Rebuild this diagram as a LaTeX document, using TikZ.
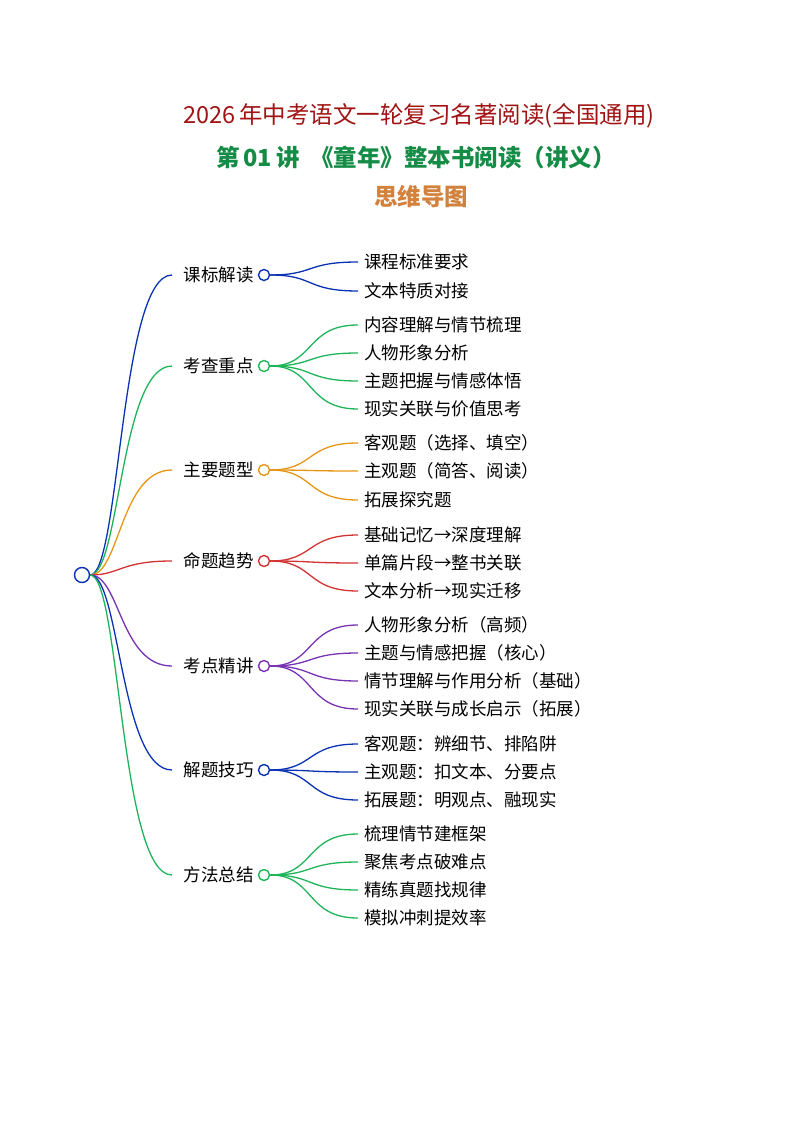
\documentclass[tikz,border=0pt]{standalone}
\usepackage{fontspec}
\setmainfont{Noto Sans CJK SC}
\usepackage{xcolor}
\definecolor{titlered}{RGB}{160,20,20}
\definecolor{titlegreen}{RGB}{20,140,70}
\definecolor{titleorange}{RGB}{210,130,60}
\definecolor{cblue}{RGB}{10,50,180}
\definecolor{cgreen}{RGB}{30,180,90}
\definecolor{corange}{RGB}{230,150,20}
\definecolor{cred}{RGB}{210,50,50}
\definecolor{cpurple}{RGB}{120,50,180}
\begin{document}
\begin{tikzpicture}[x=1pt, y=-1pt,
  topic/.style={font=\fontsize{17.5}{20}\selectfont, anchor=east, inner sep=0pt},
  leaf/.style={font=\fontsize{17.5}{20}\selectfont, anchor=west, inner sep=0pt},
  knot/.style={circle, line width=1.4pt, fill=white, minimum size=11pt, inner sep=0pt},
  link/.style={line width=1.3pt}]
\useasboundingbox (0,0) rectangle (794,1123);

% Titles
\node[font=\fontsize{23.5}{27}\selectfont, titlered] (t1) at (419,116) {2026\,年中考语文一轮复习名著阅读(全国通用)};
\node[font=\fontsize{23.5}{27}\selectfont\bfseries, titlegreen] (t2) at (416,158) {第\,01\,讲\ \ 《童年》整本书阅读（讲义）};
\node[font=\fontsize{23.5}{27}\selectfont\bfseries, titleorange] (t3) at (421,197) {思维导图};

% Root
\node[knot, draw=cblue, minimum size=15pt] (root) at (82,575) {};

% Branches: y / colour / label / leaves
\foreach \n/\y/\c/\lab/\leaves in {
  1/275/cblue/课标解读/{262/课程标准要求,291/文本特质对接},
  2/366/cgreen/考查重点/{325/内容理解与情节梳理,353/人物形象分析,381/主题把握与情感体悟,409/现实关联与价值思考},
  3/470/corange/主要题型/{443/客观题（选择、填空）,471/主观题（简答、阅读）,500/拓展探究题},
  4/561/cred/命题趋势/{535/基础记忆→深度理解,563/单篇片段→整书关联,591/文本分析→现实迁移},
  5/666/cpurple/考点精讲/{625/人物形象分析（高频）,653/主题与情感把握（核心）,681/情节理解与作用分析（基础）,709/现实关联与成长启示（拓展）},
  6/770/cblue/解题技巧/{744/客观题：辨细节、排陷阱,772/主观题：扣文本、分要点,800/拓展题：明观点、融现实},
  7/875/cgreen/方法总结/{834/梳理情节建框架,862/聚焦考点破难点,890/精练真题找规律,918/模拟冲刺提效率}} {
  \node[knot, draw=\c] (k\n) at (264,\y) {};
  \node[topic] (b\n) at (254,\y) {\lab};
  \coordinate (e\n) at (172,\y);
  \draw[link, \c] (root.east) .. controls (120,575) and (120,\y) .. (e\n);
  \foreach \ly/\txt [count=\j] in \leaves {
    \node[leaf] (l\n-\j) at (364,\ly) {\txt};
    \draw[link, \c] (k\n.east) .. controls (315,\y) and (305,\ly) .. ([xshift=-6pt]l\n-\j.west);
  }
}
\end{tikzpicture}
\end{document}
